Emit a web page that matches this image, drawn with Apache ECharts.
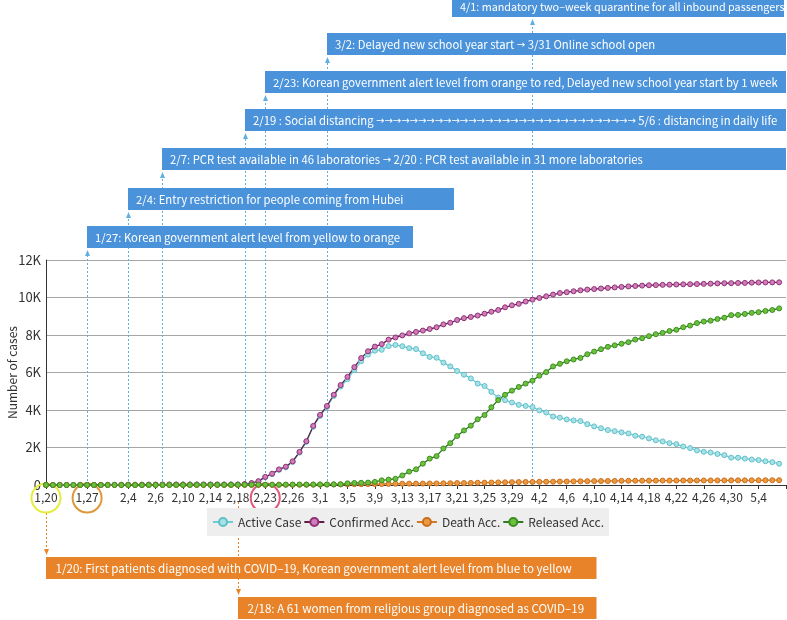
<!DOCTYPE html>
<html>
<head>
<meta charset="utf-8">
<script src="https://cdn.jsdelivr.net/npm/echarts@6/dist/echarts.min.js"></script>
<style>
  html, body { margin: 0; padding: 0; background: #fff; }
  #chart { width: 787px; height: 620px; }
</style>
</head>
<body>
<div id="chart"></div>
<script>
// days from 1/21 to 5/8, one point per day
const monthDays = [[1, 21, 31], [2, 1, 29], [3, 1, 31], [4, 1, 30], [5, 1, 8]];
const categories = [];
monthDays.forEach(([m, d0, d1]) => {
    for (let d = d0; d <= d1; d++) categories.push(m + '/' + d);
});

// labelled ticks (index into categories) and their text
const tickIndex = [0, 6, 12, 16, 20, 24, 28, 32, 36, 40, 44, 48, 52, 56, 60, 64, 68, 72, 76, 80, 84, 88, 92, 96, 100, 104];
const tickText = ['1,20', '1,27', '2,4', '2,6', '2,10', '2,14', '2,18', '2,23', '2,26', '3,1', '3,5', '3,9', '3,13', '3,17',
    '3,21', '3,25', '3,29', '4,2', '4,6', '4,10', '4,14', '4,18', '4,22', '4,26', '4,30', '5,4'];

const activeCase = [1, 1, 1, 2, 2, 3, 4, 4, 4, 6, 11, 12, 15, 15, 16, 18, 22, 22, 22, 24, 24, 24, 21, 21, 21, 19, 20, 20, 19, 35,
    87, 186, 415, 578, 807, 945, 1227, 1731, 2302, 3106, 3686, 4160, 4750, 5255, 5643, 6134, 6605, 6954, 7165, 7212,
    7407, 7470, 7402, 7300, 7253, 7024, 6832, 6789, 6527, 6325, 6085, 5884, 5684, 5410, 5281, 4966, 4665, 4523, 4398, 4275,
    4216, 4155, 3979, 3867, 3654, 3591, 3500, 3445, 3408, 3246, 3125, 3026, 2930, 2873, 2808, 2750, 2627, 2576, 2484, 2385,
    2324, 2233, 2179, 2051, 1967, 1843, 1769, 1731, 1654, 1593, 1459, 1454, 1407, 1360, 1331, 1267, 1218, 1135];
const confirmedAcc = [1, 1, 1, 2, 2, 3, 4, 4, 4, 6, 11, 12, 15, 15, 16, 19, 23, 24, 24, 27, 27, 28, 28, 28, 28, 28, 29, 30, 31, 51,
    104, 204, 433, 602, 833, 977, 1261, 1766, 2337, 3150, 3736, 4212, 4812, 5328, 5766, 6284, 6767, 7134, 7382, 7513,
    7755, 7869, 7979, 8086, 8162, 8236, 8320, 8413, 8565, 8652, 8799, 8897, 8961, 9037, 9137, 9241, 9332, 9478, 9583, 9661,
    9786, 9887, 9976, 10062, 10156, 10237, 10284, 10331, 10384, 10423, 10450, 10480, 10512, 10537, 10564, 10591, 10613, 10635, 10653, 10661,
    10674, 10683, 10694, 10702, 10708, 10718, 10728, 10738, 10752, 10761, 10765, 10774, 10780, 10793, 10801, 10804, 10806, 10810];
const deathAcc = [0, 0, 0, 0, 0, 0, 0, 0, 0, 0, 0, 0, 0, 0, 0, 0, 0, 0, 0, 0, 0, 0, 0, 0, 0, 0, 0, 0, 0, 0,
    1, 2, 2, 6, 8, 10, 12, 13, 13, 17, 20, 22, 28, 32, 35, 42, 44, 50, 51, 54,
    60, 66, 67, 72, 75, 75, 81, 84, 91, 94, 102, 104, 111, 120, 126, 131, 139, 144, 152, 158,
    162, 165, 169, 174, 177, 183, 186, 192, 200, 204, 208, 211, 214, 217, 222, 225, 229, 230, 232, 234,
    236, 237, 238, 240, 240, 240, 242, 243, 244, 246, 247, 248, 250, 250, 252, 254, 255, 256];
const releasedAcc = [0, 0, 0, 0, 0, 0, 0, 0, 0, 0, 0, 0, 0, 0, 0, 1, 1, 2, 2, 3, 3, 4, 7, 7, 7, 9, 9, 10, 12, 16,
    16, 16, 16, 18, 18, 22, 22, 22, 22, 27, 30, 30, 34, 41, 88, 108, 118, 130, 166, 247,
    288, 333, 510, 714, 834, 1137, 1407, 1540, 1947, 2233, 2612, 2909, 3166, 3507, 3730, 4144, 4528, 4811, 5033, 5228,
    5408, 5567, 5828, 6021, 6325, 6463, 6598, 6694, 6776, 6973, 7117, 7243, 7368, 7447, 7534, 7616, 7757, 7829, 7937, 8042,
    8114, 8213, 8277, 8411, 8501, 8635, 8717, 8764, 8854, 8922, 9059, 9072, 9123, 9183, 9218, 9283, 9333, 9419];

// events above the chart (blue) and below (orange)
const topEventIdx = [6, 12, 17, 29, 32, 41, 71];
const topEventText = [
    '1/27: Korean government alert level from yellow to orange',
    '2/4: Entry restriction for people coming from Hubei',
    '2/7: PCR test available in 46 laboratories {a|→} 2/20 : PCR test available in 31 more laboratories',
    '2/19 : Social distancing {a|→→→→→→→→→→→→→→→→→→→→→→→→→→→→→→→} 5/6 : distancing in daily life',
    '2/23: Korean government alert level from orange to red, Delayed new school year start by 1 week',
    '3/2: Delayed new school year start {a|→} 3/31 Online school open',
    '4/1: mandatory two–week quarantine for all inbound passengers'
];
const bottomEventIdx = [0, 28];
const bottomEventText = [
    '1/20: First patients diagnosed with COVID–19, Korean government alert level from blue to yellow',
    '2/18: A 61 women from religious group diagnosed as COVID–19'
];
// circled axis labels
const circledIdx = [0, 6, 32];
const circledColor = ['#e6ec3e', '#dc983a', '#e2587a'];

// box layout
const topBoxTop = [226, 188, 148, 109, 71, 33, -5];
const topBoxRight = [413, 454, 786, 786, 786, 786, 784];
const topBoxLeft = [null, null, null, null, null, null, 452];
const topTextSize = [11.3, 11.3, 11.3, 11.3, 11.3, 11.3, 10.8];
const bottomBoxTop = [557, 597];
const bottomBoxRight = [597, 597];

const FONT = '"Noto Sans CJK KR", "Noto Sans", sans-serif';
const BLUE = '#4a92da';
const BLUE_LINE = '#5eb0e2';
const ORANGE = '#e8832a';

let myChart = echarts.init(document.getElementById('chart'));

function lineSeries(name, data, line, fill, border) {
    return {
        name: name,
        type: 'line',
        data: data,
        symbol: 'circle',
        symbolSize: 5,
        showAllSymbol: true,
        lineStyle: { color: line, width: 1.3 },
        itemStyle: { color: fill, borderColor: border, borderWidth: 1 },
        emphasis: { disabled: true }
    };
}

const options = {
    animation: false,
    textStyle: { fontFamily: FONT },
    grid: { left: 46, right: 1, top: 260, bottom: 135, containLabel: false, outerBoundsMode: 'none' },
    legend: {
        left: 207,
        top: 508,
        backgroundColor: '#eeeeee',
        padding: [8, 5],
        itemGap: 2,
        itemWidth: 20,
        itemHeight: 10,
        textStyle: { fontSize: 12, color: '#333', fontFamily: FONT },
        data: ['Active Case', 'Confirmed Acc.', 'Death Acc.', 'Released Acc.']
    },
    xAxis: {
        type: 'category',
        data: categories,
        boundaryGap: false,
        axisLine: { lineStyle: { color: '#333', width: 1 } },
        axisTick: {
            length: 4,
            interval: (i) => tickIndex.includes(i) || i === categories.length - 1,
            lineStyle: { color: '#333' }
        },
        axisLabel: {
            interval: (i) => tickIndex.includes(i),
            formatter: (v, i) => tickText[tickIndex.indexOf(i)] || '',
            margin: 6,
            fontSize: 12,
            color: '#333',
            fontFamily: FONT
        },
        splitLine: { show: false }
    },
    yAxis: {
        type: 'value',
        min: 0,
        max: 12000,
        interval: 2000,
        name: 'Number of cases',
        nameLocation: 'middle',
        nameGap: 28,
        nameMoveOverlap: false,
        nameTextStyle: { fontSize: 12, color: '#333', fontFamily: FONT },
        axisLine: { show: true, lineStyle: { color: '#333' } },
        axisTick: { show: false },
        axisLabel: {
            formatter: (v) => v === 0 ? '0' : (v / 1000) + 'K',
            fontSize: 13,
            color: '#333',
            margin: 5,
            fontFamily: FONT
        },
        splitLine: { lineStyle: { color: '#a6a6a6', width: 1 } }
    },
    series: [
        lineSeries('Active Case', activeCase, '#6fcbd4', '#a8e2e7', '#5fbfc9'),
        lineSeries('Confirmed Acc.', confirmedAcc, '#5c1d47', '#d27cbc', '#8e3174'),
        lineSeries('Death Acc.', deathAcc, '#d27a25', '#eb9a42', '#c96e1c'),
        lineSeries('Released Acc.', releasedAcc, '#2e7a1c', '#6cc23a', '#3b8d24')
    ]
};

myChart.setOption(options);

// annotations, placed with the chart's own axes
const axisY = myChart.convertToPixel({ yAxisIndex: 0 }, 0);
const xOf = (i) => myChart.convertToPixel({ xAxisIndex: 0 }, i);
const graphics = [];
const richArrow = { a: { fontFamily: '"DejaVu Sans"', fontSize: 10, fill: '#fff' } };

topEventIdx.forEach((idx, k) => {
    const x = Math.round(xOf(idx)) + 0.5;
    const boxH = 22;
    const tip = topBoxTop[k] + boxH + 2;
    graphics.push({
        type: 'line', silent: true, z: 1,
        shape: { x1: x, y1: axisY, x2: x, y2: tip + 5 },
        style: { stroke: BLUE_LINE, lineWidth: 1, lineDash: [2, 2] }
    });
    graphics.push({
        type: 'polygon', silent: true, z: 1,
        shape: { points: [[x - 2.5, tip + 6], [x + 2.5, tip + 6], [x, tip]] },
        style: { fill: BLUE_LINE }
    });
    const left = topBoxLeft[k] != null ? topBoxLeft[k] : x - 0.5;
    graphics.push({
        type: 'rect', silent: true, z: 2,
        shape: { x: left, y: topBoxTop[k], width: topBoxRight[k] - left, height: boxH },
        style: { fill: BLUE }
    });
    graphics.push({
        type: 'text', silent: true, z: 3,
        x: left + 8, y: topBoxTop[k] + boxH / 2 + 1,
        style: {
            text: topEventText[k], fill: '#fff', fontSize: topTextSize[k], fontFamily: FONT,
            verticalAlign: 'middle', rich: richArrow
        }
    });
});

const bottomStart = [513, 502];
bottomEventIdx.forEach((idx, k) => {
    const x = Math.round(xOf(idx)) + 0.5;
    const boxH = 22;
    const tip = bottomBoxTop[k] - 2;
    graphics.push({
        type: 'line', silent: true, z: 1,
        shape: { x1: x, y1: bottomStart[k], x2: x, y2: tip - 5 },
        style: { stroke: ORANGE, lineWidth: 1, lineDash: [2, 2] }
    });
    graphics.push({
        type: 'polygon', silent: true, z: 1,
        shape: { points: [[x - 2.5, tip - 6], [x + 2.5, tip - 6], [x, tip]] },
        style: { fill: ORANGE }
    });
    graphics.push({
        type: 'rect', silent: true, z: 2,
        shape: { x: x - 0.5, y: bottomBoxTop[k], width: bottomBoxRight[k] - x, height: boxH },
        style: { fill: ORANGE }
    });
    graphics.push({
        type: 'text', silent: true, z: 3,
        x: x + 9, y: bottomBoxTop[k] + boxH / 2 + 1,
        style: { text: bottomEventText[k], fill: '#fff', fontSize: 11.6, fontFamily: FONT, verticalAlign: 'middle' }
    });
});

circledIdx.forEach((idx, k) => {
    graphics.push({
        type: 'circle', silent: true, z: 3,
        shape: { cx: xOf(idx), cy: axisY + 13, r: 14.5 },
        style: { fill: 'none', stroke: circledColor[k], lineWidth: 2 }
    });
});

myChart.setOption({ graphic: graphics });
</script>
</body>
</html>
